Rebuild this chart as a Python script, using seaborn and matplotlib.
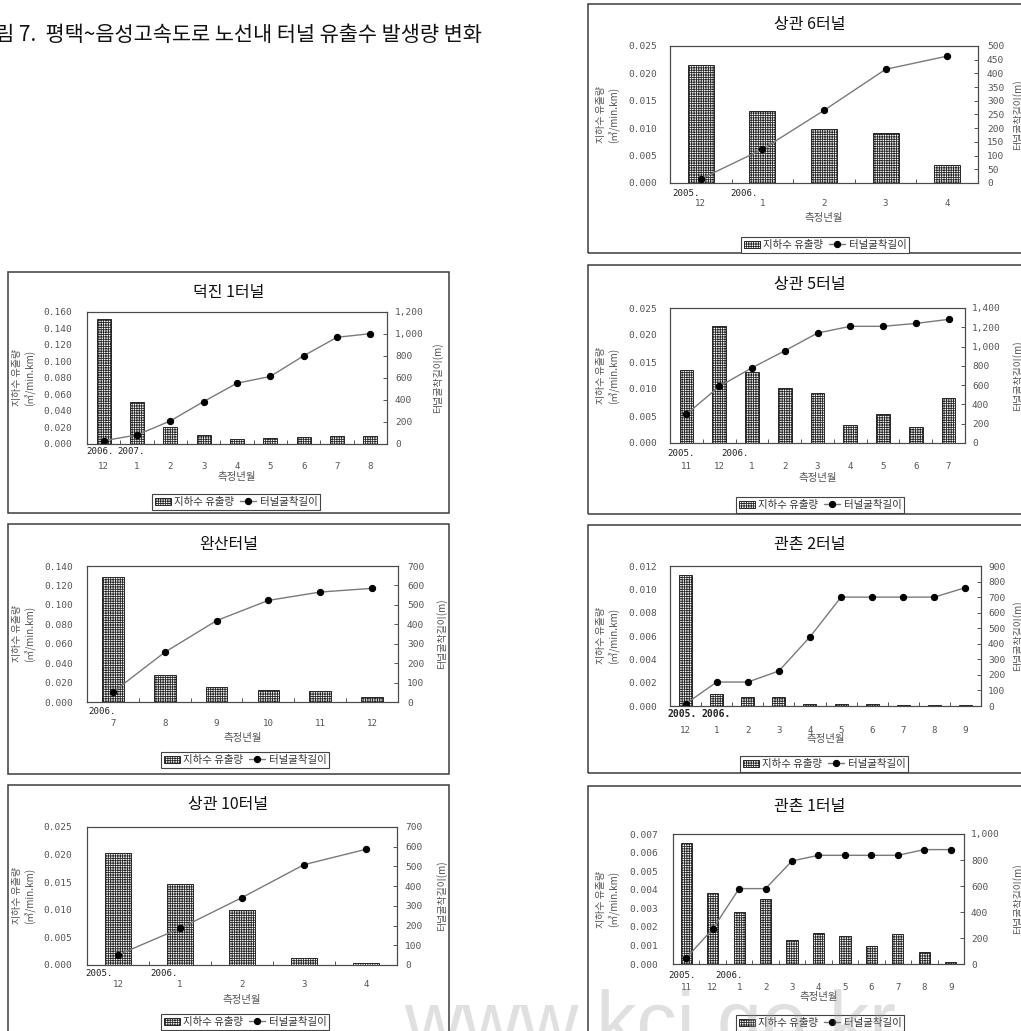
import numpy as np
import pandas as pd
import matplotlib
matplotlib.use("Agg")
import matplotlib.pyplot as plt
import seaborn as sns
from matplotlib.patches import Rectangle
from matplotlib.ticker import FixedLocator, FuncFormatter

# ---------------- data ----------------
# 덕진 1터널
deokjin1_months = ["12", "1", "2", "3", "4", "5", "6", "7", "8"]
deokjin1_years = ["2006.", "2007.", "", "", "", "", "", "", ""]
deokjin1_flow = [0.152, 0.051, 0.021, 0.011, 0.006, 0.007, 0.008, 0.010, 0.0095]
deokjin1_length = [30, 82, 210, 386, 553, 614, 802, 970, 1003]

# 완산터널
wansan_months = ["7", "8", "9", "10", "11", "12"]
wansan_years = ["2006.", "", "", "", "", ""]
wansan_flow = [0.129, 0.028, 0.015, 0.012, 0.011, 0.005]
wansan_length = [51, 256, 419, 523, 566, 585]

# 상관 10터널
sanggwan10_months = ["12", "1", "2", "3", "4"]
sanggwan10_years = ["2005.", "2006.", "", "", ""]
sanggwan10_flow = [0.0203, 0.0146, 0.0099, 0.0012, 0.0003]
sanggwan10_length = [51, 186, 342, 509, 587]

# 상관 6터널
sanggwan6_months = ["12", "1", "2", "3", "4"]
sanggwan6_years = ["2005.", "2006.", "", "", ""]
sanggwan6_flow = [0.0215, 0.0131, 0.0099, 0.0092, 0.0033]
sanggwan6_length = [15, 123, 265, 415, 463]

# 상관 5터널
sanggwan5_months = ["11", "12", "1", "2", "3", "4", "5", "6", "7"]
sanggwan5_years = ["2005.", "", "2006.", "", "", "", "", "", ""]
sanggwan5_flow = [0.0135, 0.0216, 0.0132, 0.0101, 0.0092, 0.0034, 0.0053, 0.0029, 0.0083]
sanggwan5_length = [298, 586, 780, 956, 1140, 1210, 1210, 1240, 1282]

# 관촌 2터널
gwanchon2_months = ["12", "1", "2", "3", "4", "5", "6", "7", "8", "9"]
gwanchon2_years = ["2005.", "2006.", "", "", "", "", "", "", "", ""]
gwanchon2_flow = [0.0112, 0.0010, 0.0008, 0.0008, 0.0002, 0.0002, 0.00015, 0.00005, 0.0001, 0.00005]
gwanchon2_length = [13, 154, 154, 225, 444, 700, 700, 700, 700, 761]

# 관촌 1터널
gwanchon1_months = ["11", "12", "1", "2", "3", "4", "5", "6", "7", "8", "9"]
gwanchon1_years = ["2005.", "", "2006.", "", "", "", "", "", "", "", ""]
gwanchon1_flow = [0.0065, 0.0038, 0.0028, 0.0035, 0.0013, 0.00165, 0.0015, 0.00095, 0.0016, 0.00065, 0.0001]
gwanchon1_length = [46, 269, 580, 580, 793, 836, 836, 836, 836, 880, 880]

FIG_TITLE = "그림 7.  평택~음성고속도로 노선내 터널 유출수 발생량 변화"
FLOW_LABEL = "지하수 유출량"
FLOW_AXIS = "지하수 유출량\n(㎥/min.km)"
LENGTH_LABEL = "터널굴착길이"
LENGTH_AXIS = "터널굴착길이(m)"
X_AXIS = "측정년월"

# ---------------- style ----------------
sns.set_theme(style="white")
plt.rcParams["font.family"] = ["Noto Sans CJK KR", "DejaVu Sans"]
plt.rcParams["hatch.linewidth"] = 0.6
plt.rcParams["axes.unicode_minus"] = False

W, H = 1021, 1031
fig = plt.figure(figsize=(W / 100, H / 100), dpi=100)
fig.patch.set_facecolor("white")


def fx(x):
    return x / W


def fy(y):
    return 1 - y / H


GRAY = "#555555"
MONO = "DejaVu Sans Mono"


def draw_panel(title, months, years, flow, length,
               left_max, left_step, right_max, right_step, lay):
    n = len(months)
    x0, y0, x1, y1 = lay["box"]
    fig.add_artist(Rectangle((fx(x0), fy(y1)), (x1 - x0) / W, (y1 - y0) / H,
                             transform=fig.transFigure, fill=False,
                             edgecolor="#3c3c3c", linewidth=1.1, zorder=0))
    fig.text(fx((x0 + x1) / 2), fy(y0 + 20), title, ha="center", va="center",
             fontsize=11.5, color="#111111")

    ax0, ay0, ax1, ay1 = lay["axes"]
    ax = fig.add_axes([fx(ax0), fy(ay1), (ax1 - ax0) / W, (ay1 - ay0) / H])
    df = pd.DataFrame({"pos": np.arange(n), "flow": flow, "length": length})

    sns.barplot(data=df, x="pos", y="flow", ax=ax, color="white", width=0.42,
                edgecolor="#262626", linewidth=0.7, hatch="+++++++",
                errorbar=None, saturation=1)
    ax.set_xlim(-0.5, n - 0.5)
    ax.set_ylim(0, left_max)
    nl = int(round(left_max / left_step)) + 1
    ax.yaxis.set_major_locator(FixedLocator(np.linspace(0, left_max, nl)))
    ax.yaxis.set_major_formatter(FuncFormatter(lambda v, _: f"{v:.3f}"))

    ax2 = ax.twinx()
    sns.lineplot(data=df, x="pos", y="length", ax=ax2, color="#7a7a7a",
                 linewidth=1.0, marker="o", markersize=4.5,
                 markerfacecolor="black", markeredgecolor="black")
    ax2.set_ylim(0, right_max)
    nr = int(round(right_max / right_step)) + 1
    ax2.yaxis.set_major_locator(FixedLocator(np.linspace(0, right_max, nr)))
    ax2.yaxis.set_major_formatter(FuncFormatter(lambda v, _: f"{v:,.0f}"))
    ax2.set_xlim(-0.5, n - 0.5)

    ax.set_xticks(np.arange(n))
    ax.set_xticklabels(months)
    ax.xaxis.set_minor_locator(FixedLocator(np.arange(n - 1) + 0.5))
    ax.tick_params(axis="x", which="major", length=0,
                   pad=(lay["month_dy"] - 4.5) / 1.389, labelsize=6.6,
                   labelcolor=GRAY, labelfontfamily=MONO)
    ax.tick_params(axis="x", which="minor", length=3, direction="in",
                   color=GRAY, width=0.7, bottom=True)
    ax.tick_params(axis="y", length=0, pad=lay["lpad"] / 1.389,
                   labelsize=6.8, labelcolor=GRAY, labelfontfamily=MONO)
    ax2.tick_params(axis="y", length=3, direction="in", width=0.7, color=GRAY,
                    pad=lay["rpad"] / 1.389, labelsize=6.8, labelcolor=GRAY,
                    labelfontfamily=MONO)
    for a in (ax, ax2):
        a.set_xlabel("")
        a.set_ylabel("")
        for s in a.spines.values():
            s.set_color("#4a4a4a")
            s.set_linewidth(0.8)
    ax2.patch.set_visible(False)

    k = 0
    for i, yr in enumerate(years):
        if yr:
            ax.annotate(yr, xy=(i, 0), xycoords=("data", "axes fraction"),
                        xytext=(lay["year_dx"][k], -lay["year_dy"]),
                        textcoords="offset pixels", ha="center", va="center",
                        fontsize=7.0 if lay.get("year_bold") else 6.6,
                        fontweight="bold" if lay.get("year_bold") else "normal",
                        family=MONO, color="#222222")
            k += 1

    ax.annotate(X_AXIS, xy=(0.5, 0), xycoords="axes fraction",
                xytext=(0, -lay["xlab_dy"]), textcoords="offset pixels",
                ha="center", va="center", fontsize=7.5, color=GRAY)

    ymid = fy((ay0 + ay1) / 2)
    fig.text(fx(lay["ylab_x"]), ymid, FLOW_AXIS, rotation=90, ha="center",
             va="center", fontsize=7.2, color=GRAY, linespacing=1.15,
             multialignment="center")
    fig.text(fx(lay["y2lab_x"]), ymid, LENGTH_AXIS, rotation=90, ha="center",
             va="center", fontsize=7.2, color=GRAY)

    lx, ly = lay["legend"]
    leg = fig.legend(handles=[ax.patches[0], ax2.lines[0]],
                     labels=[FLOW_LABEL, LENGTH_LABEL], loc="center",
                     bbox_to_anchor=(fx(lx), fy(ly)), ncol=2, frameon=True,
                     fancybox=False, edgecolor="#444444", framealpha=1,
                     fontsize=7.5, handlelength=1.6, handleheight=0.7,
                     handletextpad=0.3, columnspacing=0.5, borderpad=0.25,
                     borderaxespad=0)
    leg.get_frame().set_linewidth(0.8)
    for t in leg.get_texts():
        t.set_color("#333333")


panels = [
    ("덕진 1터널", deokjin1_months, deokjin1_years, deokjin1_flow, deokjin1_length,
     0.16, 0.02, 1200, 200,
     dict(box=(8, 272, 449, 513), axes=(87, 312, 387, 444), legend=(236, 502),
          ylab_x=24, y2lab_x=438, lpad=15, rpad=8, year_dx=[-4, -6],
          year_dy=8, month_dy=23, xlab_dy=33)),
    ("완산터널", wansan_months, wansan_years, wansan_flow, wansan_length,
     0.14, 0.02, 700, 100,
     dict(box=(8, 524, 449, 774), axes=(87, 566, 398, 702), legend=(245, 760),
          ylab_x=24, y2lab_x=442, lpad=14, rpad=9, year_dx=[-11],
          year_dy=10, month_dy=22, xlab_dy=36)),
    ("상관 10터널", sanggwan10_months, sanggwan10_years, sanggwan10_flow,
     sanggwan10_length, 0.025, 0.005, 700, 100,
     dict(box=(8, 785, 449, 1045), axes=(87, 827, 397, 965), legend=(245, 1022),
          ylab_x=24, y2lab_x=442, lpad=15, rpad=8, year_dx=[-19, -16],
          year_dy=9, month_dy=20, xlab_dy=35)),
    ("상관 6터널", sanggwan6_months, sanggwan6_years, sanggwan6_flow,
     sanggwan6_length, 0.025, 0.005, 500, 50,
     dict(box=(588, 4, 1032, 253), axes=(670, 46, 978, 183), legend=(825, 245),
          ylab_x=608, y2lab_x=1018, lpad=13, rpad=9, year_dx=[-15, -18],
          year_dy=10, month_dy=21, xlab_dy=35)),
    ("상관 5터널", sanggwan5_months, sanggwan5_years, sanggwan5_flow,
     sanggwan5_length, 0.025, 0.005, 1400, 200,
     dict(box=(588, 265, 1032, 514), axes=(670, 308, 965, 443), legend=(820, 505),
          ylab_x=608, y2lab_x=1018, lpad=13, rpad=7, year_dx=[-5, -17],
          year_dy=11, month_dy=24, xlab_dy=35)),
    ("관촌 2터널", gwanchon2_months, gwanchon2_years, gwanchon2_flow,
     gwanchon2_length, 0.012, 0.002, 900, 100,
     dict(box=(588, 525, 1032, 773), axes=(670, 566, 981, 706), legend=(824, 764),
          ylab_x=608, y2lab_x=1018, lpad=13, rpad=7, year_dx=[-3, 0],
          year_dy=8, month_dy=25, xlab_dy=33, year_bold=True)),
    ("관촌 1터널", gwanchon1_months, gwanchon1_years, gwanchon1_flow,
     gwanchon1_length, 0.007, 0.001, 1000, 200,
     dict(box=(588, 786, 1032, 1045), axes=(673, 834, 964, 964), legend=(820, 1023),
          ylab_x=608, y2lab_x=1018, lpad=15, rpad=7, year_dx=[-4, -10],
          year_dy=12, month_dy=24, xlab_dy=33)),
]

for p in panels:
    draw_panel(*p)

# figure caption; its opening syllable runs past the left edge
fig.text(fx(482), fy(35), FIG_TITLE, ha="right", va="center",
         fontsize=15, color="#111111")

fig.text(fx(650), fy(1048), "www.kci.go.kr", ha="center", va="baseline",
         fontsize=58, family="Liberation Sans", color="#999999", alpha=0.3,
         zorder=10)

fig.savefig("out.png", dpi=100)
